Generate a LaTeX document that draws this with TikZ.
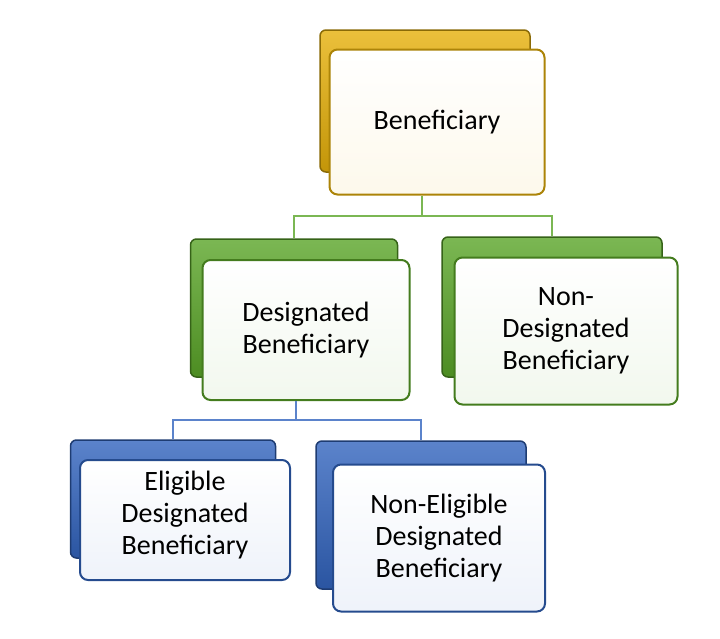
\documentclass[tikz,border=0pt]{standalone}
\usepackage{fontspec}
\setmainfont{Carlito}
\usetikzlibrary{positioning}
\definecolor{goldC}{RGB}{230,176,10}
\definecolor{greenC}{RGB}{90,165,40}
\definecolor{blueC}{RGB}{50,100,190}
\begin{document}
\begin{tikzpicture}[x=1pt,y=-1pt,
	back/.style={
	rectangle,rounded corners=6pt,
	line width=1.5pt,draw=#1!60!black,
	top color=#1!80!white,bottom color=#1!85!black
	},card/.style={
	rectangle,rounded corners=8pt,
	line width=2pt,draw=#1!75!black,
	top color=white,bottom color=#1!8!white,
	font=\fontsize{28}{32}\selectfont,align=center
	},link/.style={
	line width=1.4pt,draw=#1
	}
]
\useasboundingbox (0,0) rectangle (720,638);

% top level
\node (topB) [back=goldC,minimum width=210,minimum height=142] at (425,101) {};
\node (topF) [card=goldC,minimum width=215,minimum height=145] at (437,122) {Beneficiary};

% second level
\node (desB) [back=greenC,minimum width=207,minimum height=138] at (294,308) {};
\node (desF) [card=greenC,minimum width=207,minimum height=140] at (306,330) {Designated\\Beneficiary};
\node (nonB) [back=greenC,minimum width=220,minimum height=140] at (552,307) {};
\node (nonF) [card=greenC,minimum width=223,minimum height=147] at (566,331) {Non-\\Designated\\Beneficiary};

% third level
\node (eliB) [back=blueC,minimum width=205,minimum height=118] at (173,499) {};
\node (eliF) [card=blueC,minimum width=210,minimum height=120,text depth=14pt] at (185,520) {Eligible\\Designated\\Beneficiary};
\node (nelB) [back=blueC,minimum width=210,minimum height=148] at (421,515) {};
\node (nelF) [card=blueC,minimum width=212,minimum height=147] at (439,538) {Non-Eligible\\Designated\\Beneficiary};

% connectors
\coordinate (jTop) at (422,216);
\coordinate (jDes) at (296,420);
\draw[link=greenC!80!white] (topF.south -| jTop) -- (jTop) -| (desB.north);
\draw[link=greenC!80!white] (jTop) -| (nonB.north);
\draw[link=blueC!80!white] (desF.south -| jDes) -- (jDes) -| (eliB.north);
\draw[link=blueC!80!white] (jDes) -| (nelB.north);
\end{tikzpicture}
\end{document}
